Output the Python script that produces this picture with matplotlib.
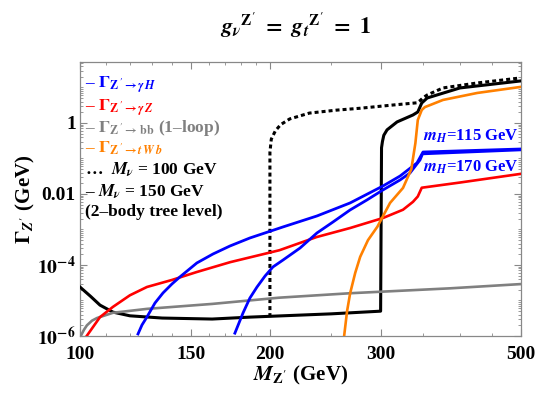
import numpy as np
import matplotlib
matplotlib.use("Agg")
import matplotlib.pyplot as plt
from matplotlib.ticker import FixedLocator, FixedFormatter, NullFormatter

plt.rcParams['font.family'] = ['Liberation Serif', 'DejaVu Serif']
plt.rcParams['font.weight'] = 'bold'
plt.rcParams['axes.labelweight'] = 'bold'
plt.rcParams['axes.titleweight'] = 'bold'
plt.rcParams['mathtext.fontset'] = 'stix'

# --- データ ---
# Z' -> gamma H, m_H = 115 GeV
mzp_gh115 = [123.6, 125.4, 127.7, 131.5, 135.4, 139.9, 144.0, 153.2, 162.5, 172.9, 185.9,
             209.8, 237.4, 267.9, 302.1, 321.5, 342.0, 349.6, 500]
gam_gh115 = [1.14e-6, 2.04e-6, 3.43e-6, 8.5e-6, 1.63e-5, 2.92e-5, 4.6e-5, 1.14e-4, 2.04e-4,
             3.43e-4, 5.76e-4, 1.18e-3, 2.40e-3, 5.58e-3, 0.0168, 0.032, 0.075, 0.152, 0.185]

# Z' -> gamma H, m_H = 170 GeV
mzp_gh170 = [176.0, 181.3, 185.9, 190.8, 196.5, 202.2, 209.8, 223.2, 237.4, 251.8, 267.9,
             285.0, 302.1, 321.5, 333.4, 345.8, 349.0, 500]
gam_gh170 = [1.2e-6, 4.45e-6, 1.17e-5, 2.4e-5, 4.9e-5, 8.8e-5, 1.38e-4, 3.0e-4, 7.96e-4,
             1.63e-3, 3.54e-3, 6.8e-3, 0.0130, 0.0248, 0.039, 0.091, 0.135, 0.175]

# Z' -> gamma Z
mzp_gz = [102.5, 107.6, 112.8, 120, 127.7, 140, 153, 173, 207, 237, 268, 302, 325, 337, 343,
          348, 400, 500]
gam_gz = [1.0e-6, 3.4e-6, 6.6e-6, 1.4e-5, 2.4e-5, 3.8e-5, 6.3e-5, 1.2e-4, 2.6e-4, 6.1e-4,
          1.1e-3, 2.1e-3, 3.6e-3, 6.0e-3, 8.5e-3, 0.015, 0.021, 0.037]

# Z' -> b b (1-loop)
mzp_bb = [100, 101.5, 102.6, 104.5, 106.4, 112.8, 127.7, 162, 207, 268, 386, 500]
gam_bb = [9.0e-7, 1.5e-6, 2.0e-6, 2.7e-6, 3.2e-6, 4.5e-6, 5.8e-6, 8.0e-6, 1.2e-5, 1.6e-5,
          2.2e-5, 2.9e-5]

# Z' -> t W b
mzp_twb = [262, 265, 268, 273, 278, 286, 296, 310, 325, 335, 340, 343, 348, 352, 359, 376,
           426, 498]
gam_twb = [9.0e-7, 5.0e-6, 1.6e-5, 6.0e-5, 1.7e-4, 5.0e-4, 1.2e-3, 5.6e-3, 0.0148, 0.05,
           0.27, 1.21, 2.32, 2.8, 3.21, 4.45, 7.0, 10.3]

# 2体ツリーレベル M_nu = 150 GeV（実線）
mzp_t150 = [100, 104, 107.6, 112.8, 120, 135, 162, 186, 250, 299.5, 300.5, 301.5, 303,
            306.6, 318, 337, 343, 348, 355, 400, 498]
gam_t150 = [2.4e-5, 1.3e-5, 7.4e-6, 4.7e-6, 3.7e-6, 3.2e-6, 3.0e-6, 3.4e-6, 4.2e-6, 5.0e-6,
            0.2, 0.3, 0.45, 0.64, 1.07, 1.68, 2.04, 3.66, 5.06, 9.7, 15.2]

# 2体ツリーレベル M_nu = 100 GeV（点線）
mzp_t100 = [200, 200, 201, 204, 208, 215, 231, 255, 278, 313, 342, 346, 350, 355, 376, 426, 498]
gam_t100 = [3.4e-6, 0.15, 0.35, 0.6, 0.9, 1.3, 1.9, 2.3, 2.6, 3.2, 3.7, 4.3, 5.2, 6.15, 9.7,
            13.4, 18.5]

xticks = [100, 150, 200, 300, 500]
xminor = [110, 120, 130, 140, 160, 170, 180, 190, 250, 350, 400, 450]
yticks = [1e-6, 1e-4, 1e-2, 1]
ytick_labels = [r'$\mathbf{10^{-6}}$', r'$\mathbf{10^{-4}}$', '0.01', '1']

fig = plt.figure(figsize=(5.4, 3.97), dpi=100)
ax = fig.add_axes([0.148, 0.1537, 0.817, 0.69])

ax.plot(mzp_t150, gam_t150, color='black', lw=2.2, zorder=3)
ax.plot(mzp_t100, gam_t100, color='black', lw=2.2, ls=(0, (1.3, 1.0)), dash_capstyle='butt', zorder=3)
ax.plot(mzp_bb, gam_bb, color='#808080', lw=1.9, zorder=4)
ax.plot(mzp_gz, gam_gz, color='#ff0000', lw=1.9, zorder=4)
ax.plot(mzp_gh115, gam_gh115, color='#0000ff', lw=2.0, zorder=5)
ax.plot(mzp_gh170, gam_gh170, color='#0000ff', lw=2.0, zorder=5)
ax.plot(mzp_twb, gam_twb, color='#ff8000', lw=1.9, zorder=5)

ax.set_xscale('log')
ax.set_yscale('log')
ax.set_xlim(100, 500)
ax.set_ylim(1e-6, 52)

ax.xaxis.set_major_locator(FixedLocator(xticks))
ax.xaxis.set_major_formatter(FixedFormatter([str(v) for v in xticks]))
ax.xaxis.set_minor_locator(FixedLocator(xminor))
ax.xaxis.set_minor_formatter(NullFormatter())

ax.yaxis.set_major_locator(FixedLocator(yticks))
ax.yaxis.set_major_formatter(FixedFormatter(ytick_labels))
ymin = [m * 10.0**k for k in range(-6, 2) for m in range(1, 10)]
ymin = [v for v in ymin if v not in yticks]
ax.yaxis.set_minor_locator(FixedLocator(ymin))
ax.yaxis.set_minor_formatter(NullFormatter())

ax.tick_params(which='both', direction='in', top=True, right=True, colors='#888888',
               labelcolor='black', labelsize=14)
ax.tick_params(axis='x', which='major', pad=7)
ax.tick_params(axis='y', which='major', pad=3)
ax.tick_params(which='major', length=5, width=0.8)
ax.tick_params(which='minor', length=2.5, width=0.6)
for s in ax.spines.values():
    s.set_color('#888888')
    s.set_linewidth(0.9)

ax.set_xlabel(r"$\boldsymbol{M}_{\mathbf{Z'}}$ (GeV)", fontsize=15, labelpad=1)
ax.set_ylabel(r"$\mathbf{\Gamma}_{\boldsymbol{Z'}}$ (GeV)", fontsize=15, labelpad=0)
ax.set_title(r"$\boldsymbol{g_{\nu}}^{\mathbf{Z'}}\ \mathbf{=}\ \boldsymbol{g_{t}}^{\mathbf{Z'}}\ \mathbf{=}\ \mathbf{1}$",
             fontsize=16, pad=20, x=0.49)

# 凡例（テキストで配置）
leg_rows = [
    (r"– $\mathbf{\Gamma}_{\mathbf{Z\,'\rightarrow}\boldsymbol{\gamma\, H}}$", '#0000ff', 0.916),
    (r"– $\mathbf{\Gamma}_{\mathbf{Z\,'\rightarrow}\boldsymbol{\gamma\, Z}}$", '#ff0000', 0.832),
    (r"– $\mathbf{\Gamma}_{\mathbf{Z\,'\rightarrow\, bb}}$ (1–loop)", '#808080', 0.759),
    (r"– $\mathbf{\Gamma}_{\mathbf{Z\,'\rightarrow}\boldsymbol{t\,W\,b}}$", '#ff8000', 0.686),
    (r"…  $\boldsymbol{M_{\nu}}$ = 100 GeV", 'black', 0.606),
    (r"– $\boldsymbol{M_{\nu}}$ = 150 GeV", 'black', 0.526),
    ("(2–body tree level)", 'black', 0.453),
]
for txt, col, yy in leg_rows:
    ax.text(0.011, yy, txt, color=col, fontsize=12.5, transform=ax.transAxes, va='center', ha='left')

ax.text(0.778, 0.730, r"$\boldsymbol{m_H}$=115 GeV", color='#0000ff', fontsize=12,
        transform=ax.transAxes, va='center', ha='left')
ax.text(0.778, 0.617, r"$\boldsymbol{m_H}$=170 GeV", color='#0000ff', fontsize=12,
        transform=ax.transAxes, va='center', ha='left')

fig.savefig('out.png', dpi=100)
